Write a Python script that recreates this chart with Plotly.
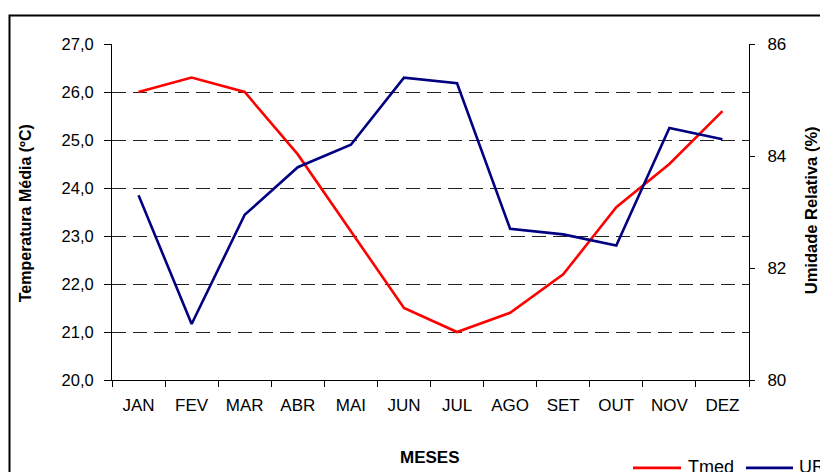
import plotly.graph_objects as go

meses = ["JAN", "FEV", "MAR", "ABR", "MAI", "JUN", "JUL", "AGO", "SET", "OUT", "NOV", "DEZ"]
tmed = [26.0, 26.3, 26.0, 24.7, 23.1, 21.5, 21.0, 21.4, 22.2, 23.6, 24.5, 25.6]
ur = [83.3, 81.0, 82.95, 83.8, 84.2, 85.4, 85.3, 82.7, 82.6, 82.4, 84.5, 84.3]
temp_ticks = [20, 21, 22, 23, 24, 25, 26, 27]
ur_ticks = [80, 82, 84, 86]

W, H = 820, 472
L, R, T, B = 112, 749, 43.5, 380
pw, ph = R - L, B - T

def px(x):
    return (x - L) / pw

def py(y):
    return (B - y) / ph

FONT = "Liberation Sans, Arial, sans-serif"

fig = go.Figure()
fig.add_trace(go.Scatter(x=meses, y=tmed, name="Tmed", mode="lines",
                         line=dict(color="#FF0000", width=2.6), yaxis="y", showlegend=False))
fig.add_trace(go.Scatter(x=meses, y=ur, name="UR", mode="lines",
                         line=dict(color="#000080", width=2.6), yaxis="y2", showlegend=False))

fig.update_layout(
    width=W, height=H,
    margin=dict(l=L, r=W - R, t=T, b=H - B, autoexpand=False),
    paper_bgcolor="white", plot_bgcolor="white",
    separators=",.",
    font=dict(family=FONT, color="black", size=15),
    xaxis=dict(type="category", range=[-0.5, 11.5], showgrid=False,
               showline=True, linecolor="black", linewidth=1,
               ticks="outside", ticklen=6, tickcolor="black", tickson="boundaries",
               tickfont=dict(size=17), ticklabelstandoff=10, zeroline=False),
    yaxis=dict(range=[20, 27], tickvals=temp_ticks, tickformat=".1f",
               showline=True, linecolor="black", linewidth=1,
               ticks="outside", ticklen=7, tickcolor="black",
               showgrid=True, gridcolor="#222222", gridwidth=1, griddash="14px,7px",
               tickfont=dict(size=16.5), ticklabelstandoff=7, zeroline=False),
    yaxis2=dict(range=[80, 86], tickvals=ur_ticks, overlaying="y", side="right",
                showline=True, linecolor="black", linewidth=1,
                ticks="outside", ticklen=5, tickcolor="black",
                showgrid=False, tickfont=dict(size=17), ticklabelstandoff=9, zeroline=False),
)

annotations = [
    dict(text="<b>Temperatura Média (ºC)</b>", x=px(25), y=py(213), textangle=-90,
         font=dict(size=16)),
    dict(text="<b>Umidade Relativa (%)</b>", x=px(811), y=py(210), textangle=-90,
         font=dict(size=16.5)),
    dict(text="<b>MESES</b>", x=px(430), y=py(458), font=dict(size=17)),
    dict(text="Tmed", x=px(686), y=py(467), xanchor="left", font=dict(size=18)),
    dict(text="UR", x=px(797), y=py(467), xanchor="left", font=dict(size=18)),
]
for a in annotations:
    a.update(xref="paper", yref="paper", showarrow=False)
    a.setdefault("xanchor", "center")
    a["yanchor"] = "middle"
fig.update_layout(annotations=annotations)

shapes = [
    dict(type="rect", x0=px(9.5), x1=px(900), y0=py(15), y1=py(600),
         line=dict(color="black", width=2)),
    dict(type="line", x0=px(633), x1=px(681), y0=py(468), y1=py(468),
         line=dict(color="#FF0000", width=2.6)),
    dict(type="line", x0=px(746), x1=px(793), y0=py(468), y1=py(468),
         line=dict(color="#000080", width=2.6)),
]
for s in shapes:
    s.update(xref="paper", yref="paper")
fig.update_layout(shapes=shapes)

fig.write_html("out.html", config={"displayModeBar": False},
               post_script="document.body.style.margin='0';document.body.style.overflow='hidden';")
